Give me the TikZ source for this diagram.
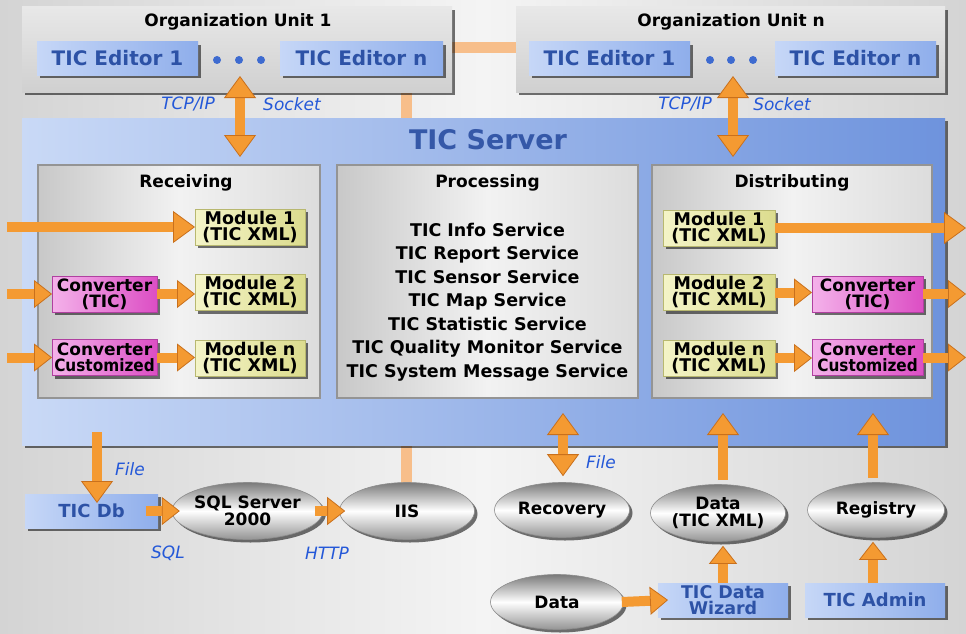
\documentclass[tikz,border=0pt]{standalone}
\usepackage{fontspec}
\usepackage{graphicx}
\setmainfont{DejaVu Sans}
\usetikzlibrary{arrows.meta,shapes.geometric,shadows}
\definecolor{oran}{HTML}{F49A32}
\definecolor{oranD}{HTML}{C9701C}
\definecolor{lineor}{HTML}{F7BE8A}
\definecolor{edL}{HTML}{C6D7F7}
\definecolor{edR}{HTML}{8FAEEB}
\definecolor{edtxt}{HTML}{2D52A6}
\definecolor{srvL}{HTML}{C9D9F6}
\definecolor{srvR}{HTML}{6E93DD}
\definecolor{srvtxt}{HTML}{3558A8}
\definecolor{labc}{HTML}{2458D8}
\definecolor{yelL}{HTML}{F4F4C8}
\definecolor{yelR}{HTML}{DCDC8E}
\definecolor{magL}{HTML}{F4B2EA}
\definecolor{magR}{HTML}{DC4EC4}
\definecolor{bgS}{HTML}{D4D4D4}
\definecolor{bgM}{HTML}{F4F4F4}
\definecolor{panL}{HTML}{C8C8C8}
\definecolor{panM}{HTML}{F2F2F2}
\definecolor{panR}{HTML}{DCDCDC}
\definecolor{panB}{HTML}{949494}
\definecolor{metD}{HTML}{7A7A7A}
\definecolor{metB}{HTML}{949494}
\definecolor{metE}{HTML}{8C8C8C}
\definecolor{orgT}{HTML}{E8E8E8}
\definecolor{orgB}{HTML}{D0D0D0}
\definecolor{modB}{HTML}{B8B870}
\definecolor{convB}{HTML}{B040A0}
\definecolor{dotc}{HTML}{3E6BD0}
\newcommand\fsz[2]{\fontsize{#1}{#2}\selectfont}
\tikzset{tipo/.tip={Triangle[length=22pt,width=32pt,line width=0.8pt,color=oranD,fill=oran]},
  tips/.tip={Triangle[length=18pt,width=28pt,line width=0.8pt,color=oranD,fill=oran]}}
\begin{document}
\begin{tikzpicture}[x=1pt,y=-1pt,
  base/.style={rectangle, inner sep=0pt, outer sep=0pt, align=center, font=\bfseries},
  dshadow/.style={drop shadow={shadow xshift=3pt,shadow yshift=-3pt,fill=black,opacity=0.55}},
  orgbox/.style={base, top color=orgT, bottom color=orgB, dshadow},
  edbox/.style={base, left color=edL, right color=edR, dshadow, text=edtxt, font=\bfseries\fsz{20}{22}},
  srvbox/.style={base, left color=srvL, right color=srvR, dshadow},
  panbox/.style={base, left color=panL, right color=panR, middle color=panM, draw=panB, line width=1.5pt},
  modbox/.style={base, left color=yelL, right color=yelR, draw=modB, line width=0.6pt, dshadow, font=\bfseries\fsz{17.5}{16}},
  convbox/.style={base, left color=magL, right color=magR, draw=convB, line width=0.6pt, dshadow, font=\bfseries\fsz{17}{16}},
  metal/.style={ellipse, inner sep=0pt, align=center, top color=metD, bottom color=metB, middle color=white, draw=metE, line width=0.6pt, dshadow, font=\bfseries\fsz{17}{16.5}},
  title/.style={inner sep=0pt, font=\bfseries\fsz{17}{20}},
  lab/.style={inner sep=0pt, font=\itshape\fsz{17}{20}, text=labc},
  dot/.style={circle, fill=dotc, inner sep=0pt, minimum size=8pt},
  oarr/.style={draw=oran, line width=10pt, -{tipo}},
  sarr/.style={draw=oran, line width=10pt, -{tips}},
  odbl/.style={draw=oran, line width=10pt, {tipo}-{tipo}},
  bus/.style={draw=lineor, line width=11pt}]
\useasboundingbox (0,0) rectangle (966,634);
\shade[left color=bgS, right color=bgS, middle color=bgM] (0,0) rectangle (966,634);
% background bus lines
\coordinate (busA) at (406,48);
\coordinate (busB) at (516,48);
\coordinate (busC) at (406,484);
\draw[bus] (busB) -- (busA) -- (busC);
% organization units
\node[orgbox, minimum width=430pt, minimum height=85pt] (org1) at (237,49.5) {};
\node[title] (org1t) at (238,22) {Organization Unit 1};
\node[edbox, minimum width=161pt, minimum height=33pt] (ed11) at (117.5,58.5) {TIC Editor 1};
\node[edbox, minimum width=163pt, minimum height=33pt] (ed1n) at (361.5,58.5) {TIC Editor n};
\node[dot] (d11) at (217,60) {};
\node[dot] (d12) at (239,60) {};
\node[dot] (d13) at (261,60) {};
\node[orgbox, minimum width=429pt, minimum height=85pt] (orgn) at (730.5,49.5) {};
\node[title] (orgnt) at (731,22) {Organization Unit n};
\node[edbox, minimum width=161pt, minimum height=33pt] (edn1) at (609.5,58.5) {TIC Editor 1};
\node[edbox, minimum width=161pt, minimum height=33pt] (ednn) at (855.5,58.5) {TIC Editor n};
\node[dot] (dn1) at (710,60) {};
\node[dot] (dn2) at (731,60) {};
\node[dot] (dn3) at (753,60) {};
% server
\node[srvbox, minimum width=923pt, minimum height=327pt] (srv) at (483.5,281.5) {};
\node[inner sep=0pt, font=\bfseries\fsz{27}{30}, text=srvtxt] (srvt) at (488,140) {TIC Server};
\node[panbox, minimum width=282pt, minimum height=233pt] (rec) at (179,281.5) {};
\node[panbox, minimum width=301pt, minimum height=233pt] (proc) at (487.5,281.5) {};
\node[panbox, minimum width=280pt, minimum height=233pt] (dist) at (792,281.5) {};
\node[title] (rect) at (186,183) {Receiving};
\node[title] (proct) at (487.5,183) {Processing};
\node[title] (distt) at (792,183) {Distributing};
\node[inner sep=0pt, align=center, font=\bfseries\fsz{17.5}{23.5}] (svc) at (487.5,302) {TIC Info Service\\TIC Report Service\\TIC Sensor Service\\TIC Map Service\\TIC Statistic Service\\TIC Quality Monitor Service\\TIC System Message Service};
% receiving
\node[modbox, minimum width=110pt, minimum height=36pt] (rm1) at (250,227) {Module 1\\(TIC XML)};
\node[modbox, minimum width=110pt, minimum height=36pt] (rm2) at (250,292.5) {Module 2\\(TIC XML)};
\node[modbox, minimum width=110pt, minimum height=36pt] (rmn) at (250,358) {Module n\\(TIC XML)};
\node[convbox, minimum width=105pt, minimum height=36pt] (rc1) at (104.5,294) {Converter\\(TIC)};
\node[convbox, minimum width=105pt, minimum height=36pt] (rcn) at (104.5,357.5) {Converter\\\scalebox{0.9}[1]{Customized}};
% distributing
\node[modbox, minimum width=112pt, minimum height=36pt] (dm1) at (719,228) {Module 1\\(TIC XML)};
\node[modbox, minimum width=112pt, minimum height=36pt] (dm2) at (719,292.5) {Module 2\\(TIC XML)};
\node[modbox, minimum width=112pt, minimum height=36pt] (dmn) at (719,358) {Module n\\(TIC XML)};
\node[convbox, minimum width=111pt, minimum height=36pt] (dc1) at (867.5,294) {Converter\\(TIC)};
\node[convbox, minimum width=111pt, minimum height=36pt] (dcn) at (867.5,357.5) {Converter\\\scalebox{0.9}[1]{Customized}};
% free ends
\coordinate (in1) at (7,227);
\coordinate (in2) at (7,294);
\coordinate (in3) at (7,357.5);
\coordinate (out1) at (966,228);
\coordinate (out2) at (966,294);
\coordinate (out3) at (966,357.5);
\draw[oarr] (in1) -- (rm1.west);
\draw[sarr] (in2) -- (rc1.west);
\draw[sarr] (in3) -- (rcn.west);
\draw[sarr] (rc1.east) -- (rc1.east -| rm2.west);
\draw[sarr] (rcn.east) -- (rcn.east -| rmn.west);
\draw[oarr] (dm1.east) -- (out1);
\draw[sarr] (dm2.east) -- (dm2.east -| dc1.west);
\draw[sarr] (dc1.east) -- (out2);
\draw[sarr] (dmn.east) -- (dmn.east -| dcn.west);
\draw[sarr] (dcn.east) -- (out3);
% TCP/IP arrows
\coordinate (t1a) at (240,76);
\coordinate (t1b) at (240,157);
\coordinate (t2a) at (733,76);
\coordinate (t2b) at (733,157);
\draw[odbl] (t1a) -- (t1b);
\draw[odbl] (t2a) -- (t2b);
\node[lab] (tcp1) at (188,104) {TCP/IP};
\node[lab] (sock1) at (292,104) {Socket};
\node[lab] (tcp2) at (685,104) {TCP/IP};
\node[lab] (sock2) at (782,104) {Socket};
% bottom
\node[edbox, font=\bfseries\fsz{18}{20}, minimum width=133pt, minimum height=34pt] (db) at (91.5,511) {TIC Db};
\node[metal, minimum width=135pt, minimum height=57pt] (sql) at (247.5,511) {SQL Server\\2000};
\node[metal, minimum width=135pt, minimum height=57pt] (iis) at (407,511) {IIS};
\node[metal, minimum width=135pt, minimum height=55pt] (recv) at (562,510) {Recovery};
\node[metal, minimum width=135pt, minimum height=57pt] (dxml) at (718,513) {Data\\(TIC XML)};
\node[metal, minimum width=137pt, minimum height=55pt] (reg) at (876,510) {Registry};
\node[metal, minimum width=133pt, minimum height=55pt] (data) at (557,602) {Data};
\node[edbox, font=\bfseries\fsz{17.5}{16}, minimum width=130pt, minimum height=34pt] (wiz) at (723,600) {TIC Data\\Wizard};
\node[edbox, font=\bfseries\fsz{18}{20}, minimum width=140pt, minimum height=34pt] (adm) at (875,600) {TIC Admin};
\coordinate (f1a) at (97,432);
\coordinate (f1b) at (97,503);
\draw[oarr] (f1a) -- (f1b);
\node[lab] (file1) at (130,469) {File};
\draw[sarr] ([xshift=-12pt]db.east) -- ([xshift=8pt]sql.west);
\draw[sarr] ([xshift=-8pt]sql.east) -- ([xshift=6pt]iis.west);
\node[lab] (sqll) at (168,553) {SQL};
\node[lab] (http) at (327,553) {HTTP};
\coordinate (r1a) at (563,413);
\draw[odbl] (r1a) -- ([yshift=6pt]recv.north -| r1a);
\node[lab] (file2) at (601,462) {File};
\coordinate (x1a) at (723,413);
\draw[oarr] ([yshift=4pt]dxml.north -| x1a) -- (x1a);
\coordinate (g1a) at (873,413);
\draw[oarr] ([yshift=4pt]reg.north -| g1a) -- (g1a);
\draw[sarr] ([xshift=-2pt]data.east) -- ([xshift=10pt]wiz.west);
\draw[sarr] (wiz.north -| x1a) -- ([yshift=-4pt]dxml.south -| x1a);
\draw[sarr] (adm.north -| g1a) -- ([yshift=-4pt]reg.south -| g1a);
\end{tikzpicture}
\end{document}
